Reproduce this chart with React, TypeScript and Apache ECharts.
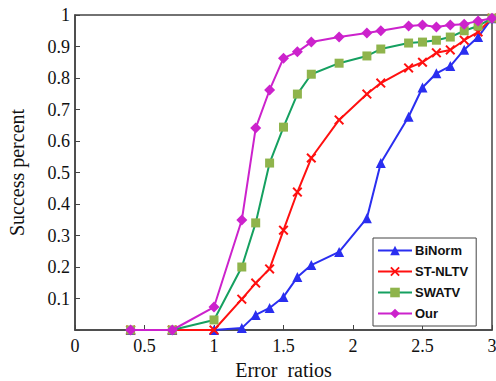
import React, { useEffect, useRef } from "react";
import * as echarts from "echarts";

const xValues = [0.4, 0.7, 1.0, 1.2, 1.3, 1.4, 1.5, 1.6, 1.7, 1.9, 2.1, 2.2, 2.4, 2.5, 2.6, 2.7, 2.8, 2.9, 3.0];
const binorm = [0, 0, 0, 0.006, 0.048, 0.07, 0.105, 0.168, 0.206, 0.248, 0.355, 0.53, 0.677, 0.77, 0.815, 0.838, 0.89, 0.93, 0.99];
const stnltv = [0, 0, 0, 0.098, 0.149, 0.194, 0.317, 0.438, 0.546, 0.667, 0.749, 0.784, 0.832, 0.85, 0.88, 0.889, 0.92, 0.946, 0.99];
const swatv = [0, 0, 0.032, 0.2, 0.34, 0.53, 0.644, 0.749, 0.812, 0.847, 0.87, 0.892, 0.911, 0.914, 0.92, 0.93, 0.95, 0.965, 0.99];
const our = [0, 0, 0.073, 0.349, 0.641, 0.762, 0.863, 0.883, 0.914, 0.93, 0.943, 0.95, 0.965, 0.968, 0.962, 0.968, 0.971, 0.981, 0.99];

const seriesNames = ["BiNorm", "ST-NLTV", "SWATV", "Our"];

const crossPath =
  "path://M0,1.4L1.4,0L5,3.6L8.6,0L10,1.4L6.4,5L10,8.6L8.6,10L5,6.4L1.4,10L0,8.6L3.6,5Z";

export default function App() {
  const ref = useRef<HTMLDivElement>(null);
  useEffect(() => {
    if (!ref.current) return;
    const chart = echarts.init(ref.current, undefined, { renderer: "svg" });
    const pair = (ys: number[]) => xValues.map((x, i) => [x, ys[i]]);
    const serif = "'Liberation Serif', 'DejaVu Serif', serif";
    chart.setOption({
      animation: false,
      backgroundColor: "#ffffff",
      grid: {
        left: 75,
        right: 4,
        top: 15,
        bottom: 51,
        outerBoundsMode: "none",
        containLabel: false,
        show: true,
        borderColor: "#444",
        borderWidth: 1.5,
        backgroundColor: "transparent",
      },
      legend: {
        orient: "vertical",
        left: 373,
        top: 238,
        itemWidth: 34,
        itemHeight: 12,
        itemGap: 8,
        padding: [6, 8, 6, 4],
        borderColor: "#444",
        borderWidth: 1,
        backgroundColor: "#fff",
        data: seriesNames,
        textStyle: {
          fontFamily: "'Liberation Sans', Arial, sans-serif",
          fontWeight: "bold",
          fontSize: 13,
          color: "#111",
          padding: [0, 0, 0, -2],
        },
      },
      xAxis: {
        type: "value",
        min: 0,
        max: 3,
        interval: 0.5,
        name: "Error  ratios",
        nameLocation: "middle",
        nameGap: 27,
        nameTextStyle: { fontFamily: serif, fontSize: 20, color: "#111" },
        axisLine: { show: true, lineStyle: { color: "#444", width: 1.5 } },
        axisTick: { show: true, inside: true, length: 5, lineStyle: { color: "#444" } },
        splitLine: { show: false },
        axisLabel: {
          fontFamily: serif,
          fontSize: 18,
          color: "#111",
          margin: 7,
          formatter: (v: number) => String(v),
        },
      },
      yAxis: {
        type: "value",
        min: 0,
        max: 1,
        interval: 0.1,
        name: "Success percent",
        nameLocation: "middle",
        nameGap: 48,
        nameTextStyle: { fontFamily: serif, fontSize: 20, color: "#111" },
        axisLine: { show: true, lineStyle: { color: "#444", width: 1.5 } },
        axisTick: { show: true, inside: true, length: 5, lineStyle: { color: "#444" } },
        splitLine: { show: false },
        axisLabel: {
          fontFamily: serif,
          fontSize: 18,
          color: "#111",
          margin: 5,
          formatter: (v: number) => (v === 0 ? "" : v >= 0.999 ? "1" : v.toFixed(1)),
        },
      },
      series: [
        {
          name: "BiNorm",
          type: "line",
          data: pair(binorm),
          symbol: "triangle",
          symbolSize: 10,
          lineStyle: { color: "#2a2ef0", width: 2 },
          itemStyle: { color: "#2a2ef0" },
          z: 2,
        },
        {
          name: "ST-NLTV",
          type: "line",
          data: pair(stnltv),
          symbol: crossPath,
          symbolSize: 10,
          lineStyle: { color: "#ff1010", width: 2 },
          itemStyle: { color: "#ff1010" },
          z: 3,
        },
        {
          name: "SWATV",
          type: "line",
          data: pair(swatv),
          symbol: "rect",
          symbolSize: 9,
          lineStyle: { color: "#15a060", width: 2 },
          itemStyle: { color: "#8fb44c" },
          z: 4,
        },
        {
          name: "Our",
          type: "line",
          data: pair(our),
          symbol: "diamond",
          symbolSize: 11,
          lineStyle: { color: "#cc22cc", width: 2 },
          itemStyle: { color: "#cc22cc" },
          z: 5,
        },
      ],
    });
    return () => chart.dispose();
  }, []);
  return <div ref={ref} style={{ width: 496, height: 381, position: "absolute", left: 0, top: 0 }} />;
}
